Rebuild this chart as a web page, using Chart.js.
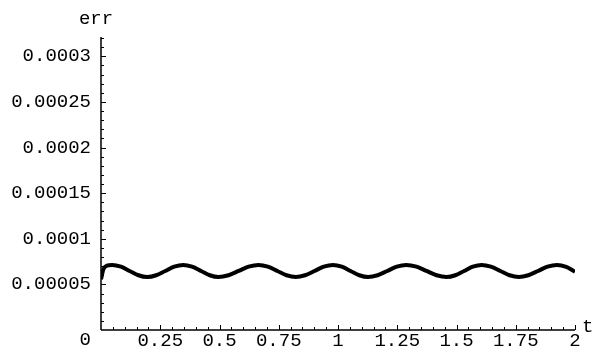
<!DOCTYPE html>
<html>
<head>
<meta charset="utf-8">
<script src="https://cdn.jsdelivr.net/npm/chart.js@4/dist/chart.umd.min.js"></script>
<style>
    html, body { margin: 0; padding: 0; background: #fff; }
    #wrap { width: 596px; height: 355px; }
</style>
</head>
<body>
<div id="wrap"><canvas id="grafico-err" width="596" height="355"></canvas></div>
<script>
// valores
const tValues = [
    0, 0.01, 0.025, 0.047, 0.084, 0.121, 0.158, 0.195, 0.233, 0.271, 0.309, 0.347,
    0.384, 0.422, 0.459, 0.496, 0.538, 0.581, 0.623, 0.665, 0.704, 0.744, 0.783, 0.822,
    0.861, 0.901, 0.940, 0.979, 1.016, 1.053, 1.090, 1.127, 1.167, 1.208, 1.248, 1.288,
    1.331, 1.373, 1.416, 1.458, 1.495, 1.532, 1.569, 1.606, 1.645, 1.685, 1.724, 1.763,
    1.803, 1.844, 1.884, 1.924, 1.963, 2.0
];
const errValues = [
    0.0000555, 0.0000665, 0.0000705, 0.0000713, 0.0000694, 0.0000647, 0.0000600, 0.0000581,
    0.0000600, 0.0000647, 0.0000694, 0.0000713, 0.0000694, 0.0000647, 0.0000600, 0.0000581,
    0.0000600, 0.0000647, 0.0000694, 0.0000713, 0.0000694, 0.0000647, 0.0000600, 0.0000581,
    0.0000600, 0.0000647, 0.0000694, 0.0000713, 0.0000694, 0.0000647, 0.0000600, 0.0000581,
    0.0000600, 0.0000647, 0.0000694, 0.0000713, 0.0000694, 0.0000647, 0.0000600, 0.0000581,
    0.0000600, 0.0000647, 0.0000694, 0.0000713, 0.0000694, 0.0000647, 0.0000600, 0.0000581,
    0.0000600, 0.0000647, 0.0000694, 0.0000713, 0.0000692, 0.0000638
];
const xTicks = [0.25, 0.5, 0.75, 1, 1.25, 1.5, 1.75, 2];
const xTickLabels = ['0.25', '0.5', '0.75', '1', '1.25', '1.5', '1.75', '2'];
const yTicks = [0, 0.00005, 0.0001, 0.00015, 0.0002, 0.00025, 0.0003];
const yTickLabels = ['0', '0.00005', '0.0001', '0.00015', '0.0002', '0.00025', '0.0003'];
const xMinorStep = 0.05;
const yMinorStep = 0.00001;
const xLabel = 't';
const yLabel = 'err';

const fonte = '"Liberation Mono", "Courier New", monospace';

// eixos no estilo Mathematica: ticks para dentro, com ticks menores
const eixosPlugin = {
    id: 'eixos',
    afterDraw(chart) {
        const { ctx, chartArea: a, scales: { x, y } } = chart;
        ctx.save();
        ctx.strokeStyle = '#000';
        ctx.lineWidth = 1.5;
        ctx.beginPath();
        ctx.moveTo(a.left, a.bottom); ctx.lineTo(a.right, a.bottom);
        ctx.moveTo(a.left, a.bottom); ctx.lineTo(a.left, a.top - 1);
        ctx.stroke();

        ctx.lineWidth = 1;
        ctx.beginPath();
        const nx = Math.round(x.max / xMinorStep);
        for (let i = 1; i <= nx; i++) {
            const px = Math.round(x.getPixelForValue(i * xMinorStep)) + 0.5;
            const len = i % 5 === 0 ? 5 : 3;
            ctx.moveTo(px, a.bottom); ctx.lineTo(px, a.bottom - len);
        }
        const ny = Math.floor(y.max / yMinorStep + 1e-6);
        for (let i = 1; i <= ny; i++) {
            const py = Math.round(y.getPixelForValue(i * yMinorStep)) + 0.5;
            const len = i % 5 === 0 ? 5 : 3;
            ctx.moveTo(a.left, py); ctx.lineTo(a.left + len, py);
        }
        ctx.stroke();

        ctx.fillStyle = '#000';
        ctx.font = '19px ' + fonte;
        ctx.textBaseline = 'middle';
        ctx.textAlign = 'center';
        ctx.fillText(yLabel, a.left - 5, 19);
        ctx.textAlign = 'left';
        ctx.fillText(xLabel, a.right + 7, a.bottom - 3);
        ctx.textAlign = 'right';
        ctx.fillText(yTickLabels[0], a.left - 10, y.getPixelForValue(0) + 10);
        ctx.restore();
    }
};

document.addEventListener('DOMContentLoaded', () => {
    const ctx = document.getElementById('grafico-err').getContext('2d');

    new Chart(ctx, {
        type: 'line',
        data: {
            datasets: [{
                label: yLabel,
                data: tValues.map((t, i) => ({ x: t, y: errValues[i] })),
                borderColor: '#000',
                borderWidth: 4,
                pointRadius: 0,
                fill: false,
                cubicInterpolationMode: 'monotone'
            }]
        },
        options: {
            responsive: false,
            animation: false,
            layout: { padding: { left: 0, right: 21, top: 38, bottom: 0 } },
            plugins: { legend: { display: false }, tooltip: { enabled: false } },
            scales: {
                x: {
                    type: 'linear',
                    min: 0,
                    max: 2,
                    grid: { display: false, drawTicks: false },
                    border: { display: false },
                    afterBuildTicks: (scale) => { scale.ticks = xTicks.map(v => ({ value: v })); },
                    afterFit: (scale) => { scale.height = 25; },
                    ticks: {
                        padding: 0,
                        maxRotation: 0,
                        autoSkip: false,
                        color: '#000',
                        font: { family: fonte, size: 19 },
                        callback: (v) => xTickLabels[xTicks.indexOf(v)]
                    }
                },
                y: {
                    type: 'linear',
                    min: 0,
                    max: 0.00032,
                    grid: { display: false, drawTicks: false },
                    border: { display: false },
                    afterBuildTicks: (scale) => { scale.ticks = yTicks.map(v => ({ value: v })); },
                    afterFit: (scale) => { scale.width = 101; },
                    ticks: {
                        padding: 10,
                        autoSkip: false,
                        color: '#000',
                        font: { family: fonte, size: 19 },
                        callback: (v) => v === 0 ? '' : yTickLabels[yTicks.indexOf(v)]
                    }
                }
            }
        },
        plugins: [eixosPlugin]
    });
});
</script>
</body>
</html>
